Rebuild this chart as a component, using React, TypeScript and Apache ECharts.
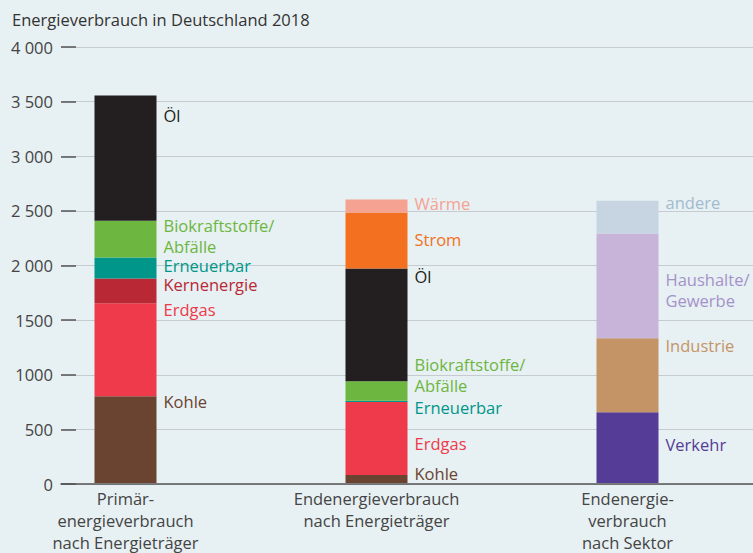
import React, { useEffect, useRef } from "react";
import * as echarts from "echarts";

const title = "Energieverbrauch in Deutschland 2018";
const categories = [
  "Primär-\nenergieverbrauch\nnach Energieträger",
  "Endenergieverbrauch\nnach Energieträger",
  "Endenergie-\nverbrauch\nnach Sektor",
];
const yTickLabels = ["0", "500", "1000", "1500", "2 000", "2 500", "3 000", "3 500", "4 000"];

// values per segment across the three bars ('-' = not present)
const kohle = [796, 73, "-"];
const erdgas = [854, 671, "-"];
const kernenergie = [226, "-", "-"];
const erneuerbar = [193, 10, "-"];
const biokraftstoffe = [338, 180, "-"];
const oel = [1148, 1034, "-"];
const strom = ["-", 513, "-"];
const waerme = ["-", 119, "-"];
const verkehr = ["-", "-", 650];
const industrie = ["-", "-", 677];
const haushalte = ["-", "-", 961];
const andere = ["-", "-", 302];

const segmentNames = [
  "Kohle", "Erdgas", "Kernenergie", "Erneuerbar", "Biokraftstoffe/\nAbfälle", "Öl",
  "Strom", "Wärme", "Verkehr", "Industrie", "Haushalte/\nGewerbe", "andere",
];
const segmentValues = [
  kohle, erdgas, kernenergie, erneuerbar, biokraftstoffe, oel,
  strom, waerme, verkehr, industrie, haushalte, andere,
];

// styling
const barColors = [
  "#6a4430", "#ee3a4a", "#b82935", "#00968a", "#6db640", "#231f20",
  "#f37021", "#f5a292", "#553c96", "#c59466", "#c7b4d8", "#c6d5e1",
];
const labelColors = [
  "#6a4430", "#ee3a4a", "#b82935", "#00968a", "#6db640", "#231f20",
  "#f37021", "#f5a292", "#553c96", "#c59466", "#a592cb", "#a2bbcf",
];
// vertical offset (px) of each label centre from the top of its segment, per bar
const labelDy = [
  [5, -2, 0],
  [6, 42, 0],
  [6, 0, 0],
  [8, 7, 0],
  [15, -6, 0],
  [20, 8, 0],
  [0, 27, 0],
  [0, 4, 0],
  [0, 0, 32],
  [0, 0, 7],
  [0, 0, 56],
  [0, 0, 2],
];

const FONT = "'Open Sans', 'Noto Sans', sans-serif";
const FS = 16.5;

export default function App() {
  const ref = useRef<HTMLDivElement>(null);
  useEffect(() => {
    document.body.style.margin = "0";
    document.body.style.background = "#e7f0f2";
    const chart = echarts.init(ref.current!, null, { renderer: "svg" });
    const series = segmentNames.map((name, si) => ({
      name,
      type: "bar",
      stack: "total",
      xAxisIndex: 1,
      yAxisIndex: 1,
      barWidth: 62,
      itemStyle: { color: barColors[si] },
      data: segmentValues[si].map((v, ci) => ({
        value: v,
        label: {
          show: v !== "-",
          position: [69, labelDy[si][ci]],
          align: "left",
          verticalAlign: "middle",
          formatter: name,
          color: labelColors[si],
          fontSize: FS,
          lineHeight: name.includes("\n") ? 21 : 18,
          fontFamily: FONT,
        },
      })),
    }));
    chart.setOption({
      animation: false,
      backgroundColor: "#e7f0f2",
      textStyle: { fontFamily: FONT },
      title: {
        text: title,
        left: 7,
        top: 6,
        textStyle: { fontSize: FS, fontWeight: "normal", color: "#333", fontFamily: FONT },
      },
      grid: [
        { left: 61, right: 0, top: 47, bottom: 69 },
        { left: -2, right: -1, top: 47, bottom: 69 },
      ],
      xAxis: [
        {
          gridIndex: 0,
          type: "category",
          data: categories,
          axisLine: { show: true, lineStyle: { color: "#555", width: 1.5 } },
          axisTick: { show: false },
          axisLabel: { show: false },
        },
        {
          gridIndex: 1,
          type: "category",
          data: categories,
          axisLine: { show: false },
          axisTick: { show: false },
          axisLabel: {
            color: "#444",
            fontSize: FS,
            lineHeight: 22,
            margin: 4,
            fontFamily: FONT,
          },
        },
      ],
      yAxis: [
        {
          gridIndex: 0,
          type: "value",
          min: 0,
          max: 4000,
          interval: 500,
          axisLine: { show: false },
          axisTick: { show: true, inside: true, length: 15, lineStyle: { color: "#555", width: 1.5 } },
          splitLine: { show: true, lineStyle: { color: "#c5cbce", width: 1 } },
          axisLabel: {
            color: "#444",
            fontSize: FS,
            margin: 8,
            fontFamily: FONT,
            formatter: (v: number) => yTickLabels[Math.round(v / 500)],
          },
        },
        {
          gridIndex: 1,
          type: "value",
          min: 0,
          max: 4000,
          interval: 500,
          show: false,
          splitLine: { show: false },
        },
      ],
      series,
    });
    return () => chart.dispose();
  }, []);
  return <div ref={ref} style={{ width: 753, height: 553, background: "#e7f0f2" }} />;
}
